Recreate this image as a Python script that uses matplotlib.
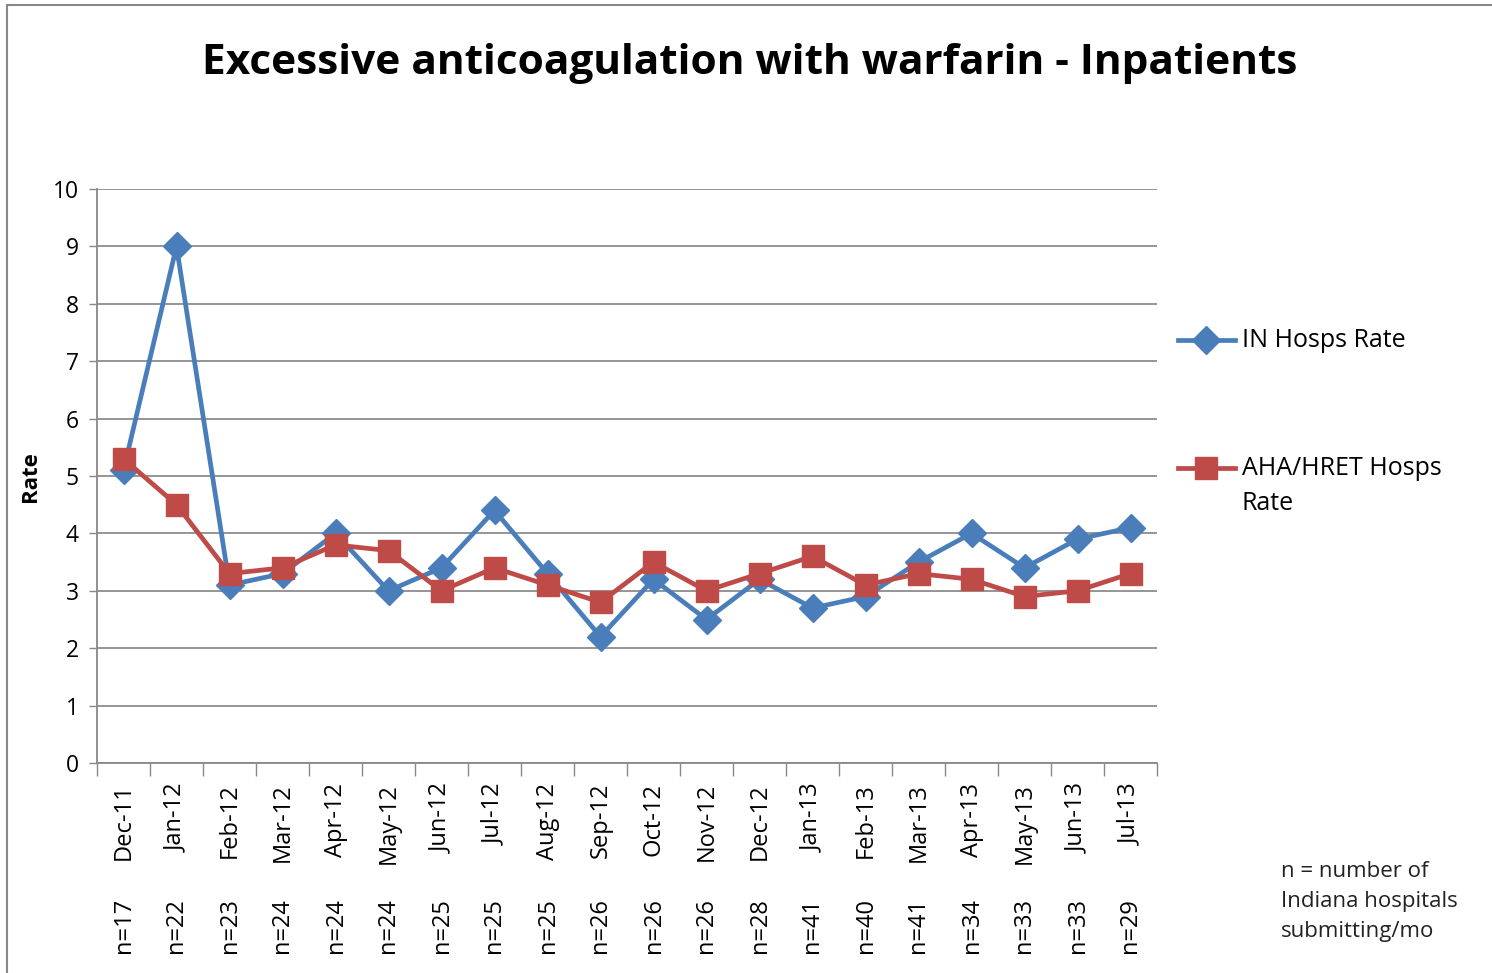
import matplotlib
matplotlib.use("Agg")
import matplotlib.pyplot as plt
from matplotlib.lines import Line2D
from matplotlib.patches import Rectangle
import numpy as np

months = ["Dec-11", "Jan-12", "Feb-12", "Mar-12", "Apr-12", "May-12", "Jun-12",
          "Jul-12", "Aug-12", "Sep-12", "Oct-12", "Nov-12", "Dec-12", "Jan-13",
          "Feb-13", "Mar-13", "Apr-13", "May-13", "Jun-13", "Jul-13"]
n_labels = ["n=17", "n=22", "n=23", "n=24", "n=24", "n=24", "n=25", "n=25", "n=25",
            "n=26", "n=26", "n=26", "n=28", "n=41", "n=40", "n=41", "n=34", "n=33",
            "n=33", "n=29"]
in_rate = [5.1, 9.0, 3.1, 3.3, 4.0, 3.0, 3.4, 4.4, 3.3, 2.2, 3.2, 2.5, 3.2, 2.7,
           2.9, 3.5, 4.0, 3.4, 3.9, 4.1]
aha_rate = [5.3, 4.5, 3.3, 3.4, 3.8, 3.7, 3.0, 3.4, 3.1, 2.8, 3.5, 3.0, 3.3, 3.6,
            3.1, 3.3, 3.2, 2.9, 3.0, 3.3]

W, H = 1492, 973
fig = plt.figure(figsize=(W / 100, H / 100), dpi=100)
plt.rcParams['font.family'] = ['Open Sans', 'DejaVu Sans']

# chart border
fig.patches.append(Rectangle((7 / W, -0.01), 1.2, (H - 5) / H + 0.01, transform=fig.transFigure,
                             fill=False, edgecolor='#888888', linewidth=1.5))

left, right, top, bottom = 97, 1157, 189, 763
ax = fig.add_axes([left / W, 1 - bottom / H, (right - left) / W, (bottom - top) / H])

blue = '#4a7ebb'
red = '#be4b48'
lw = 3.4
ms_d, ms_s = 14, 15.5
x = np.arange(len(months))
ax.plot(x, in_rate, color=blue, lw=lw, marker='D', ms=ms_d, mec=blue, mfc=blue, zorder=3)
ax.plot(x, aha_rate, color=red, lw=lw, marker='s', ms=ms_s, mec=red, mfc=red, zorder=4)

ax.set_xlim(-0.5, len(months) - 0.5)
ax.set_ylim(0, 10)
ax.set_yticks(range(0, 11))
ax.tick_params(axis='y', labelsize=16.5, length=6, color='#888888', width=1, pad=7)
ax.yaxis.grid(True, color='#8c8c8c', lw=1.3)
ax.set_axisbelow(True)
for s in ['top', 'right']:
    ax.spines[s].set_visible(False)
ax.spines['left'].set_color('#888888')
ax.spines['bottom'].set_color('#888888')
ax.spines['left'].set_linewidth(1.3)
ax.spines['bottom'].set_linewidth(1.3)

ax.set_xticks(np.arange(-0.5, len(months), 1.0))
ax.set_xticklabels([])
ax.tick_params(axis='x', length=9, color='#888888', width=1)

trans = ax.get_xaxis_transform()
for i, (m, nl) in enumerate(zip(months, n_labels)):
    ax.text(i, -0.035, m, rotation=90, ha='center', va='top', fontsize=17, transform=trans)
    ax.text(i, -0.235, nl, rotation=90, ha='center', va='top', fontsize=17, transform=trans)

fig.text(30 / W, 1 - 477 / H, "Rate", rotation=90, ha='center', va='center',
         fontsize=16, fontweight='bold')
fig.text(750 / W, 1 - 63 / H, "Excessive anticoagulation with warfarin - Inpatients",
         ha='center', va='center', fontsize=30.5, fontweight='bold')

# legend
def leg_entry(y, color, marker, ms):
    fig.add_artist(Line2D([1178 / W, 1235 / W], [1 - y / H, 1 - y / H], transform=fig.transFigure,
                          color=color, lw=lw))
    fig.add_artist(Line2D([1206 / W], [1 - y / H], transform=fig.transFigure, color=color,
                          marker=marker, ms=ms, mec=color, mfc=color))

leg_entry(340, blue, 'D', ms_d)
fig.text(1242 / W, 1 - 340 / H, "IN Hosps Rate", ha='left', va='center', fontsize=18)
leg_entry(468, red, 's', ms_s)
fig.text(1242 / W, 1 - 468 / H, "AHA/HRET Hosps", ha='left', va='center', fontsize=18)
fig.text(1242 / W, 1 - 503 / H, "Rate", ha='left', va='center', fontsize=18)

fig.text(1281 / W, 1 - 861 / H, "n = number of\nIndiana hospitals\nsubmitting/mo",
         ha='left', va='top', fontsize=16, linespacing=1.55, color='#222222')

fig.savefig("out.png", dpi=100)
